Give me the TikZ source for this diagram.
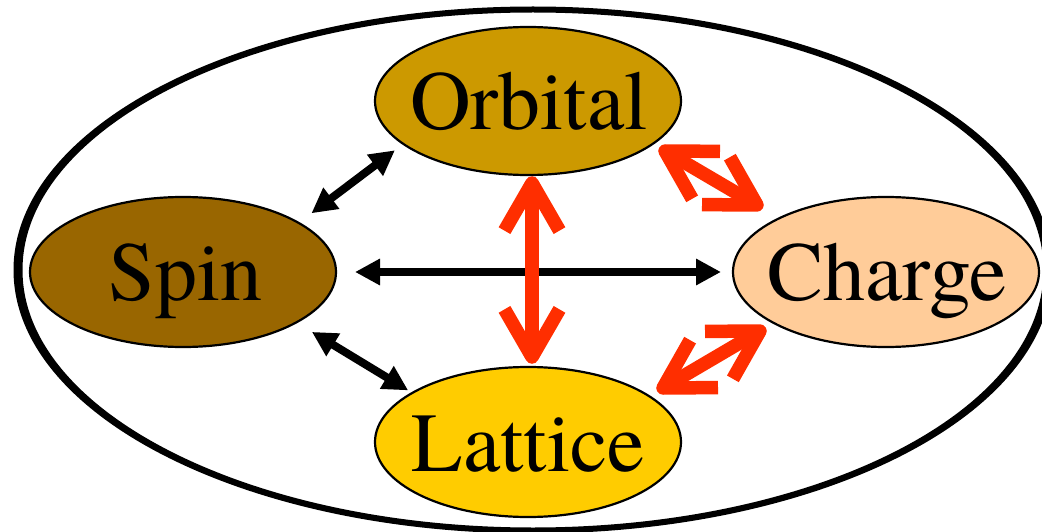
\documentclass[tikz,border=0pt]{standalone}
\usepackage{fontspec}
\setmainfont{TeX Gyre Termes}
\usetikzlibrary{shapes.geometric,arrows.meta,calc}
\definecolor{orbc}{HTML}{CC9900}
\definecolor{spinc}{HTML}{996600}
\definecolor{chargec}{HTML}{FFCC99}
\definecolor{latc}{HTML}{FFCC00}
\definecolor{redc}{HTML}{FF2E00}
\newcommand\redarr[2]{%
  \draw[redline] (#1) -- (#2);
  \draw[redline] ($(#1)!55pt!30:(#2)$) -- (#1) -- ($(#1)!55pt!-30:(#2)$);
  \draw[redline] ($(#2)!55pt!30:(#1)$) -- (#2) -- ($(#2)!55pt!-30:(#1)$);}
\begin{document}
\begin{tikzpicture}[x=1pt,y=-1pt,
  ell/.style={ellipse, draw=black, line width=2.2pt, minimum width=306pt, minimum height=150pt, inner sep=0pt, outer sep=0pt},
  lbl/.style={font=\fontsize{84}{90}\selectfont, inner sep=0pt, anchor=base},
  blk/.style={line width=8pt, {Triangle[length=25pt,width=25pt]}-{Triangle[length=25pt,width=25pt]}},
  redline/.style={draw=redc, line width=13.5pt, line cap=butt, line join=round},
]
\useasboundingbox (0,0) rectangle (1042,532);
\coordinate (oc) at (533,270);
\fill[black, even odd rule] (oc) ellipse [x radius=519.5pt, y radius=263.5pt] (oc) ellipse [x radius=510.5pt, y radius=257.5pt];
\node[ell, fill=orbc, minimum height=148pt] (orbital) at (528,101) {};
\node[ell, fill=spinc] (spin) at (183,272) {};
\node[ell, fill=chargec] (charge) at (886,272) {};
\node[ell, fill=latc] (lattice) at (528,442) {};
\node[lbl] (orbitallbl) at (529,130) {Orbital};
\node[lbl] (spinlbl) at (185.5,300) {Spin};
\node[lbl] (chargelbl) at (887,300) {Charge};
\node[lbl] (latticelbl) at (528.5,471) {Lattice};
\draw[blk, shorten <=19pt, shorten >=12pt] (spin.east) -- (charge.west);
\draw[blk, shorten <=16pt, shorten >=10.6pt] (spin.23.1) -- (orbital.199.5);
\draw[blk, shorten <=18.3pt, shorten >=4.9pt] (spin.336.1) -- (lattice.157.5);
\coordinate (ol1) at ($(orbital.south)+(4,8)$);
\coordinate (ol2) at ($(lattice.north)+(4,-10)$);
\coordinate (oc1) at ($(orbital.center)+(137,50)$);
\coordinate (oc2) at ($(charge.center)+(-129,-67)$);
\coordinate (cl1) at ($(charge.center)+(-126,59)$);
\coordinate (cl2) at ($(lattice.center)+(135,-54)$);
\redarr{ol1}{ol2}
\redarr{oc1}{oc2}
\redarr{cl1}{cl2}
\end{tikzpicture}
\end{document}
